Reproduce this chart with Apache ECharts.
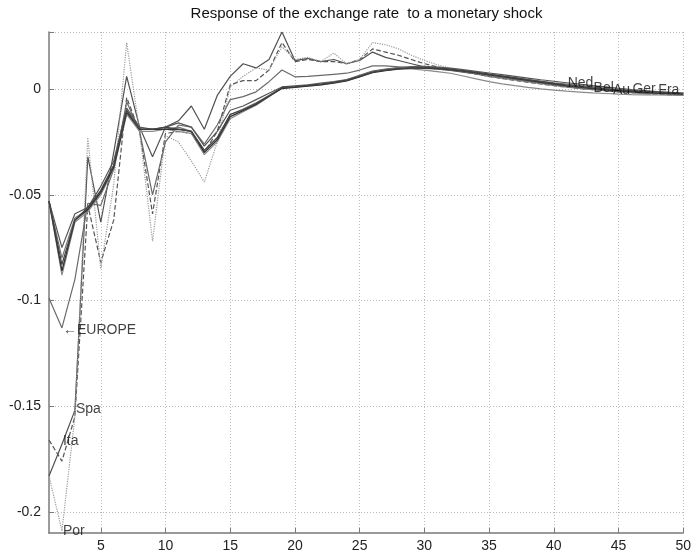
<!DOCTYPE html>
<html>
<head>
<meta charset="utf-8">
<script src="https://cdn.jsdelivr.net/npm/echarts@6/dist/echarts.min.js"></script>
<style>
html,body{margin:0;padding:0;background:#fff;}
#chart{width:694px;height:559px;}
</style>
</head>
<body>
<div id="chart"></div>
<script>
// ---- data ----
const periods = [1,2,3,4,5,6,7,8,9,10,11,12,13,14,15,16,17,18,19,20,21,22,23,24,25,26,27,28,29,30,31,32,33,34,35,36,37,38,39,40,41,42,43,44,45,46,47,48,49,50];

const spa = [-0.183,-0.168,-0.152,-0.032,-0.063,-0.030,0.006,-0.018,-0.032,-0.018,
  -0.015,-0.008,-0.019,-0.003,0.006,0.012,0.010,0.014,0.027,0.0135,
  0.0145,0.013,0.014,0.012,0.0135,0.0175,0.015,0.0135,0.012,0.0105,
  0.0095,0.0088,0.008,0.0072,0.006,0.0052,0.0044,0.0036,0.0028,0.002,
  0.0013,0.0007,0.0002,-0.0003,-0.0008,-0.0012,-0.0016,-0.0019,-0.0022,-0.0024];

const ita = [-0.166,-0.176,-0.155,-0.055,-0.082,-0.062,-0.004,-0.020,-0.059,-0.021,
  -0.020,-0.021,-0.030,-0.020,0.002,0.004,0.004,0.009,0.022,0.013,
  0.014,0.013,0.013,0.012,0.014,0.019,0.0175,0.016,0.014,0.012,
  0.0105,0.0093,0.0082,0.0071,0.006,0.005,0.0041,0.0032,0.0024,0.0016,
  0.0009,0.0003,-0.0003,-0.0008,-0.0013,-0.0017,-0.0021,-0.0024,-0.0027,-0.0029];

const por = [-0.183,-0.209,-0.155,-0.023,-0.085,-0.045,0.022,-0.020,-0.072,-0.022,
  -0.025,-0.034,-0.044,-0.025,0.001,0.006,0.010,0.009,0.020,0.014,
  0.015,0.013,0.017,0.012,0.014,0.022,0.021,0.019,0.016,0.0135,
  0.0115,0.0098,0.0084,0.0072,0.0061,0.0051,0.0042,0.0033,0.0025,0.0017,
  0.001,0.0004,-0.0002,-0.0007,-0.0012,-0.0016,-0.002,-0.0023,-0.0026,-0.0028];

const europe = [-0.099,-0.113,-0.090,-0.054,-0.055,-0.038,-0.006,-0.020,-0.050,-0.025,
  -0.017,-0.018,-0.026,-0.017,-0.005,-0.0036,-0.0013,0.0035,0.009,0.0058,
  0.006,0.0065,0.007,0.0075,0.009,0.011,0.011,0.0105,0.010,0.0098,
  0.0094,0.009,0.0084,0.0077,0.007,0.0062,0.0054,0.0046,0.0038,0.003,
  0.0023,0.0016,0.001,0.0004,-0.0001,-0.0006,-0.001,-0.0014,-0.0017,-0.002];

const ned = [-0.053,-0.075,-0.059,-0.056,-0.046,-0.034,-0.009,-0.018,-0.019,-0.018,
  -0.016,-0.018,-0.027,-0.020,-0.010,-0.008,-0.005,-0.002,0.001,0.0015,
  0.002,0.0028,0.0035,0.0045,0.0065,0.0085,0.0095,0.0102,0.0106,0.0107,
  0.0104,0.0099,0.0092,0.0084,0.0076,0.0068,0.006,0.0052,0.0044,0.0037,
  0.003,0.0023,0.0016,0.001,0.0004,-0.0002,-0.0007,-0.0012,-0.0016,-0.002];

const bel = [-0.053,-0.088,-0.063,-0.058,-0.050,-0.038,-0.012,-0.020,-0.020,-0.019,
  -0.020,-0.021,-0.031,-0.025,-0.014,-0.0107,-0.0076,-0.0036,0.0005,0.001,
  0.0015,0.002,0.003,0.004,0.006,0.008,0.009,0.0095,0.0095,0.009,
  0.0083,0.0075,0.0062,0.0048,0.0035,0.0025,0.0016,0.0008,0.0001,-0.0005,
  -0.001,-0.0014,-0.0018,-0.0021,-0.0024,-0.0026,-0.0027,-0.0028,-0.0029,-0.003];

const aut = [-0.053,-0.080,-0.061,-0.057,-0.048,-0.036,-0.010,-0.019,-0.019,-0.019,
  -0.018,-0.020,-0.029,-0.023,-0.012,-0.0095,-0.0065,-0.003,0.0005,0.001,
  0.0017,0.0024,0.0033,0.0043,0.0062,0.0082,0.0092,0.0099,0.0103,0.0103,
  0.0099,0.0093,0.0085,0.0076,0.0066,0.0056,0.0046,0.0036,0.0027,0.0018,
  0.001,0.0003,-0.0003,-0.0008,-0.0013,-0.0017,-0.002,-0.0022,-0.0024,-0.0026];

const ger = [-0.053,-0.086,-0.062,-0.057,-0.049,-0.037,-0.011,-0.019,-0.019,-0.019,
  -0.019,-0.020,-0.030,-0.024,-0.013,-0.0102,-0.0072,-0.0034,0.0003,0.0008,
  0.0014,0.002,0.0029,0.0039,0.0058,0.0078,0.0088,0.0095,0.0099,0.01,
  0.0097,0.0092,0.0085,0.0077,0.0068,0.0059,0.005,0.0041,0.0032,0.0024,
  0.0016,0.0009,0.0003,-0.0003,-0.0008,-0.0012,-0.0016,-0.0019,-0.0021,-0.0023];

const fra = [-0.053,-0.083,-0.062,-0.056,-0.048,-0.036,-0.010,-0.019,-0.019,-0.018,
  -0.019,-0.020,-0.029,-0.023,-0.012,-0.0098,-0.0068,-0.0032,0.0008,0.0012,
  0.0018,0.0024,0.0032,0.0042,0.006,0.008,0.009,0.0097,0.0101,0.0102,
  0.0099,0.0094,0.0087,0.0079,0.0071,0.0062,0.0053,0.0044,0.0035,0.0027,
  0.0019,0.0012,0.0006,0.0001,-0.0004,-0.0008,-0.0012,-0.0015,-0.0018,-0.002];

// tick labels
const xTicks = [5,10,15,20,25,30,35,40,45,50];
const yTicks = [-0.2,-0.15,-0.1,-0.05,0];
const yTop = 0.027;
const yBottom = -0.21;

// text annotations (label, x, y)
const labelTexts = ['Ned','Bel','Au','Ger','Fra','Spa','Ita','Por','\u2190EUROPE'];
const labelX = [41,43,44.5,46,48,3,2,2,2];
const labelY = [0.0028,0.0005,-0.0005,-0.0002,-0.0005,-0.1514,-0.1666,-0.209,-0.114];

const titleText = 'Response of the exchange rate  to a monetary shock';

// ---- styles ----
const FONT = 'Liberation Sans, Arial, sans-serif';
const seriesDefs = [
  {name:'Spa', data:spa, color:'#505050', type:'solid', width:1.2},
  {name:'Ita', data:ita, color:'#555555', type:'dashed', width:1.2},
  {name:'Por', data:por, color:'#9a9a9a', type:'dotted', width:1.2},
  {name:'EUROPE', data:europe, color:'#6a6a6a', type:'solid', width:1.2},
  {name:'Ned', data:ned, color:'#555555', type:'solid', width:1.2},
  {name:'Bel', data:bel, color:'#8a8a8a', type:'solid', width:1.2},
  {name:'Aut', data:aut, color:'#777777', type:'solid', width:1.2},
  {name:'Ger', data:ger, color:'#333333', type:'solid', width:1.4},
  {name:'Fra', data:fra, color:'#444444', type:'solid', width:1.2}
];

const series = seriesDefs.map(d => ({
  name: d.name,
  type: 'line',
  data: periods.map((p,i) => [p, d.data[i]]),
  showSymbol: false,
  symbol: 'none',
  lineStyle: {color: d.color, type: d.type, width: d.width},
  z: 2,
  silent: true
}));

series.push({
  name: 'labels',
  type: 'scatter',
  symbolSize: 0,
  silent: true,
  z: 5,
  data: labelTexts.map((t,i) => ({value:[labelX[i], labelY[i]], name:t})),
  label: {
    show: true,
    position: 'right',
    distance: 1,
    formatter: p => p.name,
    fontFamily: FONT,
    fontSize: 14,
    color: '#111'
  }
});

const chart = echarts.init(document.getElementById('chart'), null, {renderer:'canvas'});
chart.setOption({
  animation: false,
  backgroundColor: '#ffffff',
  graphic: [{
    type: 'text',
    x: 366.5,
    y: 14,
    silent: true,
    style: {
      text: titleText,
      align: 'center',
      verticalAlign: 'middle',
      font: 'normal 15px ' + FONT,
      fill: '#111'
    }
  }],
  grid: {left:49, right:10, top:32, bottom:26, containLabel:false},
  xAxis: {
    type: 'value',
    min: 1, max: 50,
    axisLine: {show:true, onZero:false, lineStyle:{color:'#7a7a7a', width:1.5}},
    axisTick: {show:true, inside:true, length:5, customValues: xTicks, lineStyle:{color:'#7a7a7a'}},
    axisLabel: {customValues: xTicks, margin:6, fontFamily:FONT, fontSize:14, color:'#222'},
    splitLine: {show:true, lineStyle:{color:'#bdbdbd', type:[1,2], width:1}}
  },
  yAxis: {
    type: 'value',
    min: yBottom, max: yTop,
    axisLine: {show:true, onZero:false, lineStyle:{color:'#7a7a7a', width:1.5}},
    axisTick: {show:true, inside:true, length:5, customValues: yTicks.concat([yTop]), lineStyle:{color:'#7a7a7a'}},
    axisLabel: {customValues: yTicks, margin:8, formatter: v => String(v), fontFamily:FONT, fontSize:14, color:'#222'},
    splitLine: {show:true, lineStyle:{color:'#bdbdbd', type:[1,2], width:1}}
  },
  series: series
});
</script>
</body>
</html>
